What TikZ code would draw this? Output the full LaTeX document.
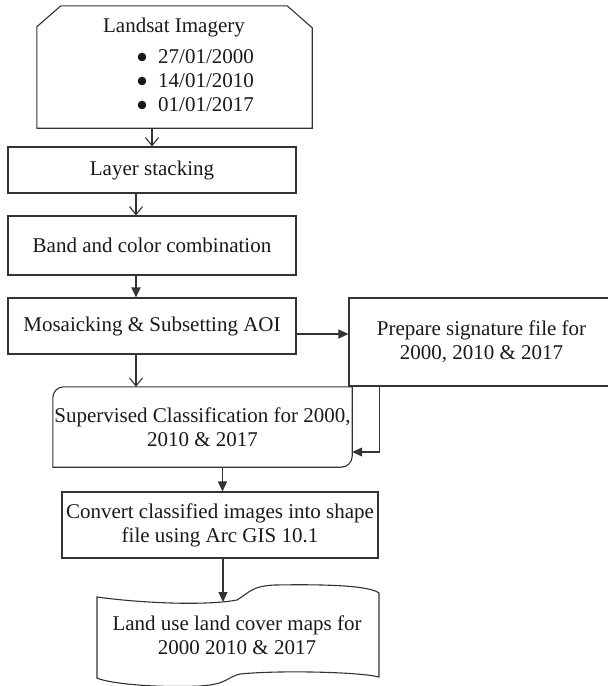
\documentclass[tikz,border=0pt]{standalone}
\usepackage{fontspec}
\setmainfont{Liberation Serif}
\usetikzlibrary{arrows.meta}
\tikzset{
  flowbox/.style={draw=black!80,line width=1.1pt,align=center,inner sep=0pt},
  flowtext/.style={align=center,inner sep=0pt},
  flowline/.style={line width=1.1pt,draw=black!80},
  openhead/.style={flowline,-{Straight Barb[length=8pt,width=13pt,line width=1.1pt]}},
  fillhead/.style={flowline,-{Triangle[length=10pt,width=9pt]}},
  every picture/.style={font=\fontsize{21}{24}\selectfont,text=black!90}
}

\begin{document}
\begin{tikzpicture}[x=1pt,y=-1pt]
  \useasboundingbox (0,0) rectangle (608,686);
  % imagery box with cut corners
  \node[flowtext,minimum width=275pt,minimum height=122pt] (landsat) at (174.5,67) {};
  \draw[flowline] (landsat.south west) -- ([yshift=-21pt]landsat.north west) -- ([xshift=24pt]landsat.north west)
    -- ([xshift=-25pt]landsat.north east) -- ([yshift=-22pt]landsat.north east) -- (landsat.south east) -- cycle;
  \node[anchor=base,inner sep=0pt] (landsattitle) at (174,32) {Landsat Imagery};
  \foreach \d [count=\i] in {27/01/2000,14/01/2010,01/01/2017} {
    \node[anchor=base west,inner sep=0pt] (date\i) at (158,39+24*\i) {\d};
    \fill[black!90] ([xshift=-16pt,yshift=6pt]date\i.base west) circle (4.3pt);
  }

  \node[flowbox,minimum width=288pt,minimum height=46pt] (layer) at (152,170) {Layer stacking};
  \node[flowbox,minimum width=288pt,minimum height=59pt] (band) at (152,245.5) {Band and color combination};
  \node[flowbox,minimum width=288pt,minimum height=56pt] (mosaic) at (152,326) {Mosaicking \& Subsetting AOI};
  \node[flowbox,minimum width=265pt,minimum height=88pt] (prepare) at (481.5,342) {Prepare signature file for\\2000, 2010 \& 2017};
  \node[flowtext,minimum width=299pt,minimum height=80pt] (superv) at (202.5,427) {Supervised Classification for 2000,\\2010 \& 2017};
  \draw[flowline] (superv.south west) [rounded corners=11pt] -- (superv.north west) [sharp corners] -- (superv.north east)
    [rounded corners=11pt] -- (superv.south east) [sharp corners] -- cycle;
  \node[flowbox,minimum width=316pt,minimum height=66pt] (convert) at (220,525) {Convert classified images into shape\\file using Arc GIS 10.1};

  % output map sheet
  \node[flowtext] (landuse) at (237,635) {Land use land cover maps for\\2000 2010 \& 2017};
  \draw[flowline] (97,597) .. controls (140,603) and (205,606) .. (237,600) .. controls (250,592) and (252,586) .. (275,585)
    .. controls (330,584) and (370,586) .. (379,593) -- (379,677) .. controls (360,672) and (280,670) .. (240,674)
    .. controls (225,678) and (228,684) .. (200,686) .. controls (160,688) and (110,684) .. (97,678) -- cycle;
  \coordinate (landtop) at (223,602);

  \draw[openhead] (landsat.south -| layer.north) -- (layer.north);
  \draw[openhead] ([xshift=-16pt]layer.south) -- ([xshift=-16pt]layer.south |- band.north);
  \draw[fillhead] ([xshift=-16pt]band.south) -- ([xshift=-16pt]band.south |- mosaic.north);
  \draw[fillhead] ([yshift=-8pt]mosaic.east) -- ([yshift=-8pt]mosaic.east -| prepare.west);
  \draw[openhead] ([xshift=-16pt]mosaic.south) -- ([xshift=-16pt]mosaic.south |- superv.north);
  \draw[fillhead] ([xshift=31pt]prepare.south west) |- ([yshift=-25pt]superv.east);
  \draw[fillhead] ([xshift=20pt]superv.south) -- ([xshift=20pt]superv.south |- convert.north);
  \draw[fillhead] ([xshift=3pt]convert.south) -- (landtop);
  %\draw[help lines] (0,0) grid[step=50] (608,686);
\end{tikzpicture}
\end{document}
